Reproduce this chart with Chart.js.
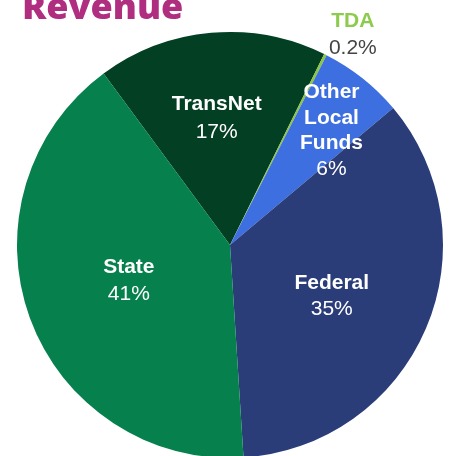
<!DOCTYPE html>
<html>
<head>
<meta charset="utf-8">
<script src="https://cdn.jsdelivr.net/npm/chart.js@4.4.1/dist/chart.umd.min.js"></script>
<style>
  html, body { margin: 0; padding: 0; background: #ffffff; overflow: hidden; }
  #wrap { position: relative; width: 449px; height: 460px; }
</style>
</head>
<body>
<div id="wrap"><canvas id="revenue_chart"></canvas></div>
<script>
// revenue sources, clockwise from the TransNet slice
const categories = ['TransNet', 'TDA', 'Other Local Funds', 'Federal', 'State'];
const shares = [17.4, 0.2, 6.4, 35.1, 40.9];
const shareLabels = ['17%', '0.2%', '6%', '35%', '41%'];
const nameLines = [['TransNet'], ['TDA'], ['Other', 'Local', 'Funds'], ['Federal'], ['State']];
const colors = ['#023f23', '#8cc63f', '#3d6fe0', '#2a3d78', '#06804c'];

// where each label sits: fraction of radius, plus a small angle nudge (deg)
const labelPlace = [
      { r: 0.61, turn: -0.8, lineH: 28 },
      { r: 1.15, turn: 3.5, lineH: 27 },
      { r: 0.725, turn: 2.6, lineH: 25.5 },
      { r: 0.53, turn: 2.5, lineH: 26 },
      { r: 0.50, turn: 1.8, lineH: 27 }
];

const sliceLabels = {
      id: 'sliceLabels',
      afterDatasetsDraw(chart)
      {
            const ctx = chart.ctx;
            const arcs = chart.getDatasetMeta(0).data;
            ctx.save();
            ctx.textAlign = 'center';
            ctx.textBaseline = 'middle';
            arcs.forEach(function (arc, i)
            {
                  const p = arc.getProps(['x', 'y', 'startAngle', 'endAngle', 'outerRadius'], true);
                  const place = labelPlace[i];
                  const mid = (p.startAngle + p.endAngle) / 2 + place.turn * Math.PI / 180;
                  const cx = p.x + Math.cos(mid) * p.outerRadius * place.r;
                  const cy = p.y + Math.sin(mid) * p.outerRadius * place.r + 2;
                  const lines = nameLines[i].length + 1;
                  let y = cy - (lines - 1) * place.lineH / 2;
                  const outside = place.r > 1;

                  ctx.font = 'bold 21px "Liberation Sans", Arial, sans-serif';
                  ctx.fillStyle = outside ? '#8dcb4e' : '#ffffff';
                  nameLines[i].forEach(function (t)
                  {
                        ctx.fillText(t, cx, y);
                        y += place.lineH;
                  });
                  ctx.font = '21px "Liberation Sans", Arial, sans-serif';
                  ctx.fillStyle = outside ? '#444444' : '#ffffff';
                  ctx.fillText(shareLabels[i], cx, y);
            });

            // page heading, partly cut by the top edge
            ctx.textAlign = 'left';
            ctx.textBaseline = 'alphabetic';
            ctx.font = '800 36px "Open Sans", sans-serif';
            ctx.fillStyle = '#b02e80';
            ctx.fillText('Revenue', 22, 18.5);
            ctx.restore();
      }
};

new Chart(document.getElementById('revenue_chart'), {
      type: 'pie',
      data: {
            labels: categories,
            datasets: [{
                  data: shares,
                  backgroundColor: colors,
                  borderWidth: 0
            }]
      },
      options: {
            responsive: true,
            maintainAspectRatio: false,
            animation: false,
            rotation: -36.4,
            layout: { padding: { left: 17, right: 6, top: 32, bottom: 2 } },
            plugins: {
                  legend: { display: false },
                  tooltip: { enabled: false }
            }
      },
      plugins: [sliceLabels]
});
</script>
</body>
</html>
